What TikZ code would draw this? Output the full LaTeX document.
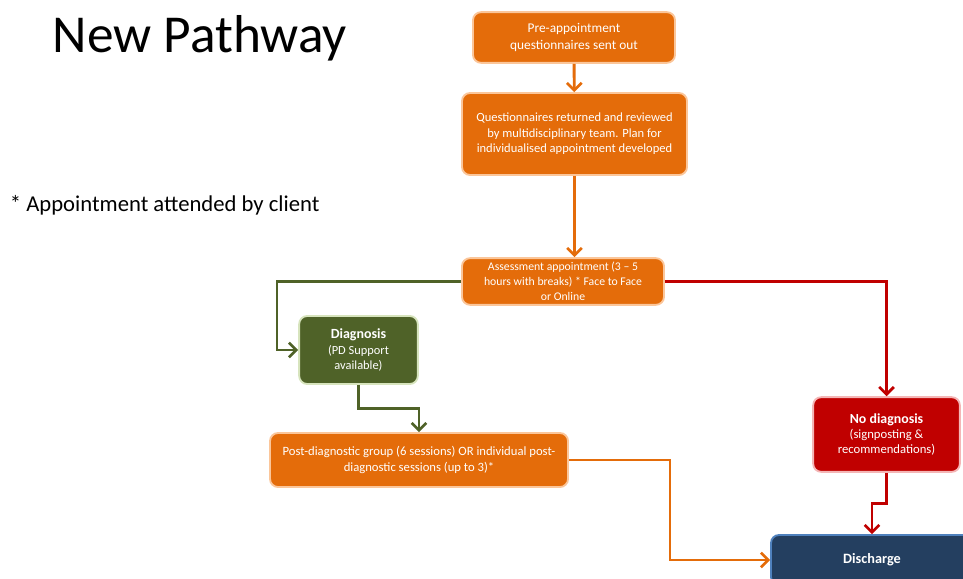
\documentclass[tikz,border=0pt]{standalone}
\usepackage{fontspec}
\setmainfont{Carlito}
\usetikzlibrary{arrows.meta}

\definecolor{pathorange}{HTML}{E46C0A}
\definecolor{paleorange}{HTML}{FBC69A}
\definecolor{pathgreen}{HTML}{4F6228}
\definecolor{palegreen}{HTML}{D7E4BD}
\definecolor{pathred}{HTML}{C00000}
\definecolor{palered}{HTML}{F4B6B6}
\definecolor{pathblue}{HTML}{243F60}
\definecolor{paleblue}{HTML}{4F81BD}

\begin{document}
\begin{tikzpicture}[x=0.75pt,y=-0.75pt,>={Straight Barb[length=5.5pt,width=11pt,line width=2pt]},line width=2.2pt,
  stage box/.style={rounded corners=6pt,line width=1.4pt,text=white,align=center,inner sep=1pt},
  orange box/.style={stage box,fill=pathorange,draw=paleorange},
  green box/.style={stage box,fill=pathgreen,draw=palegreen},
  red box/.style={stage box,fill=pathred,draw=palered},
  blue box/.style={stage box,fill=pathblue,draw=paleblue}]

            \useasboundingbox (0,0) rectangle (963,578);
            \clip (0,0) rectangle (963,578);

            \node[anchor=base west,font=\fontsize{40}{40}\selectfont] (title) at (47,52) {New Pathway};
            \node[anchor=base west,font=\fontsize{17}{20}\selectfont] (note) at (4,211) {* Appointment attended by client};

            \node[orange box,minimum width=151.5pt,minimum height=38pt,font=\fontsize{10}{12.5}\selectfont] (pre) at (574,37.5) {Pre-appointment\\questionnaires sent out};
            \node[orange box,minimum width=168.75pt,minimum height=61.5pt,font=\fontsize{9.4}{11.6}\selectfont] (quest) at (574.5,134) {Questionnaires returned and reviewed\\by multidisciplinary team. Plan for\\individualised appointment developed};
            \node[orange box,minimum width=151.5pt,minimum height=35pt,inner sep=0pt,font=\fontsize{8.8}{11.4}\selectfont] (assess) at (563,281.5) {Assessment appointment (3 -- 5\\hours with breaks) * Face to Face\\or Online};
            \node[green box,minimum width=89pt,minimum height=51pt,font=\fontsize{9.3}{11.5}\selectfont] (diag) at (358.5,350) {{\fontsize{10.5}{11.5}\selectfont\bfseries Diagnosis}\\(PD Support\\available)};
            \node[orange box,minimum width=223.5pt,minimum height=40.5pt,font=\fontsize{9.5}{12}\selectfont] (post) at (419,460) {Post-diagnostic group (6 sessions) OR individual post-\\diagnostic sessions (up to 3)*};
            \node[red box,minimum width=110pt,minimum height=56pt,font=\fontsize{9.5}{11.5}\selectfont] (nodiag) at (886.5,434.5) {{\fontsize{10.4}{11.5}\selectfont\bfseries No diagnosis}\\(signposting \&\\recommendations)};
            \node[blue box,minimum width=151.5pt,minimum height=37.5pt,font=\fontsize{10.7}{12}\selectfont\bfseries] (disch) at (872,560) {Discharge};

            \coordinate (gbend) at (277,281.5);
            \coordinate (pbend) at (670,460);

            \draw[->,pathorange] (pre) -- (quest);
            \draw[->,pathorange] (quest) -- (quest |- assess.north);
            \draw[->,pathgreen] (assess.west) -- (gbend) |- (diag.west);
            \draw[->,pathred] (assess.east) -| (nodiag);
            \draw[->,pathgreen] (diag.south) -- ++(0,24) -| (post.north);
            \draw[->,pathorange] (post.east) -- (pbend) |- (disch.west);
            \draw[->,pathred] (nodiag.south) -- ++(0,31) -| (disch.north);

            ;
        \end{tikzpicture}
\end{document}
